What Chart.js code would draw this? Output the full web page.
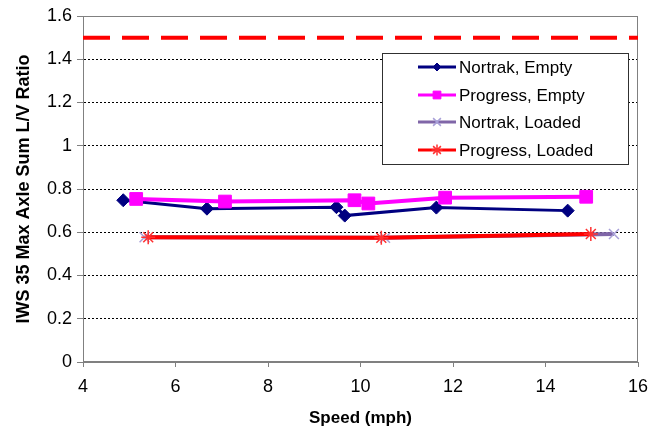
<!DOCTYPE html>
<html>
<head>
<meta charset="utf-8">
<script src="https://cdn.jsdelivr.net/npm/chart.js@4.4.1/dist/chart.umd.min.js"></script>
<style>
  html, body { margin: 0; padding: 0; background: #fff; }
  #c { display: block; }
</style>
</head>
<body>
<canvas id="c" width="660" height="429"></canvas>
<script>
// ---- data ----
const nortrakEmptyX = [4.87, 6.68, 9.48, 9.66, 11.64, 14.48];
const nortrakEmptyY = [0.748, 0.709, 0.716, 0.677, 0.714, 0.700];
const progressEmptyX = [5.15, 7.07, 9.87, 10.17, 11.83, 14.88];
const progressEmptyY = [0.754, 0.742, 0.748, 0.733, 0.760, 0.764];
const nortrakLoadedX = [5.33, 10.53, 15.48];
const nortrakLoadedY = [0.577, 0.574, 0.592];
const progressLoadedX = [5.41, 10.45, 14.98];
const progressLoadedY = [0.577, 0.574, 0.592];
const limitX = [4, 16];
const limitY = [1.5, 1.5];
const seriesNames = ['Nortrak, Empty', 'Progress, Empty', 'Nortrak, Loaded', 'Progress, Loaded'];
const xTicks = [4, 6, 8, 10, 12, 14, 16];
const yTicks = [0, 0.2, 0.4, 0.6, 0.8, 1, 1.2, 1.4, 1.6];
const xTitle = 'Speed (mph)';
const yTitle = 'IWS 35 Max Axle Sum L/V Ratio';

const pts = (xs, ys) => xs.map((x, i) => ({ x: x, y: ys[i] }));
const FONT = "'Liberation Sans', Arial, sans-serif";

const styles = [
  { color: '#000080', lw: 3, ps: 'rectRot', pr: 6.5, pc: '#000080', pb: 1, lpr: 4 },
  { color: '#FF00FF', lw: 4, ps: 'rect', pr: 9, pc: '#FF00FF', pb: 1, lpr: 5.5 },
  { color: '#8066A8', lw: 4, ps: 'crossRot', pr: 7, pc: '#A8A0D8', pb: 1.5, lpr: 5.5 },
  { color: '#FF0000', lw: 4, ps: 'star', pr: 7, pc: '#FF3030', pb: 1.5, lpr: 5.5 }
];
const seriesX = [nortrakEmptyX, progressEmptyX, nortrakLoadedX, progressLoadedX];
const seriesY = [nortrakEmptyY, progressEmptyY, nortrakLoadedY, progressLoadedY];

const datasets = seriesNames.map((name, i) => ({
  label: name,
  data: pts(seriesX[i], seriesY[i]),
  borderColor: styles[i].color,
  backgroundColor: styles[i].pc,
  borderWidth: styles[i].lw,
  pointStyle: styles[i].ps,
  pointRadius: styles[i].pr,
  pointBorderColor: styles[i].pc,
  pointBackgroundColor: styles[i].pc,
  pointBorderWidth: styles[i].pb,
  tension: 0,
  order: 4 - i,
  isSeries: true
}));
datasets.push({
  label: 'limit',
  data: pts(limitX, limitY),
  borderColor: '#FF0000',
  borderWidth: 4,
  borderDash: [27, 12],
  pointRadius: 0,
  tension: 0,
  order: 0,
  isSeries: false
});

const frame = {
  id: 'frame',
  beforeDatasetsDraw(chart) {
    const a = chart.chartArea, ctx = chart.ctx;
    ctx.save();
    ctx.strokeStyle = '#808080';
    ctx.lineWidth = 1;
    ctx.strokeRect(Math.round(a.left) + 0.5, Math.round(a.top) + 0.5,
                   Math.round(a.right - a.left) - 1, Math.round(a.bottom - a.top) - 1);
    ctx.restore();
  }
};

const legendBox = {
  id: 'legendBox',
  afterDraw(chart) {
    const ctx = chart.ctx;
    const bx = 382, by = 53, bw = 246, bh = 111;
    ctx.save();
    ctx.fillStyle = '#fff';
    ctx.fillRect(bx, by, bw, bh);
    ctx.strokeStyle = '#303030';
    ctx.lineWidth = 1;
    ctx.strokeRect(bx + 0.5, by + 0.5, bw, bh);
    const rows = [67, 95, 122, 150];
    chart.data.datasets.filter(d => d.isSeries).forEach((d, i) => {
      const y = rows[i];
      const s = styles[i];
      ctx.strokeStyle = s.color;
      ctx.lineWidth = 3;
      ctx.setLineDash([]);
      ctx.beginPath();
      ctx.moveTo(418, y);
      ctx.lineTo(456, y);
      ctx.stroke();
      ctx.fillStyle = s.pc;
      ctx.strokeStyle = s.pc;
      ctx.lineWidth = s.pb;
      Chart.helpers.drawPoint(ctx, { pointStyle: s.ps, radius: s.lpr, rotation: 0, borderWidth: s.pb }, 437, y);
      ctx.fillStyle = '#000';
      ctx.font = '17px ' + FONT;
      ctx.textBaseline = 'middle';
      ctx.textAlign = 'left';
      ctx.fillText(d.label, 459, y + 1);
    });
    ctx.restore();
  }
};

new Chart(document.getElementById('c'), {
  type: 'line',
  data: { datasets: datasets },
  options: {
    responsive: false,
    devicePixelRatio: 1,
    animation: false,
    layout: { padding: { left: 0, top: 16, right: 22, bottom: 0 } },
    plugins: { legend: { display: false }, tooltip: { enabled: false } },
    scales: {
      x: {
        type: 'linear',
        min: 4, max: 16,
        afterBuildTicks: s => { s.ticks = xTicks.map(v => ({ value: v })); },
        afterFit: s => { s.height = 67; },
        ticks: {
          color: '#000', font: { family: FONT, size: 18 }, padding: 9,
          maxRotation: 0,
          callback: v => String(v)
        },
        grid: { drawOnChartArea: false, tickLength: 5, tickColor: '#808080', color: '#808080' },
        border: { color: '#808080', width: 1 },
        title: { display: true, text: xTitle, color: '#000',
                 font: { family: FONT, size: 17, weight: 'bold' }, padding: { top: 0, bottom: 0 } }
      },
      y: {
        min: 0, max: 1.6,
        afterBuildTicks: s => { s.ticks = yTicks.map(v => ({ value: v })); },
        afterFit: s => { s.width = 83; },
        ticks: {
          color: '#000', font: { family: FONT, size: 18 }, padding: 5,
          callback: v => String(Math.round(v * 10) / 10)
        },
        grid: {
          color: ctx => (ctx.tick && (ctx.tick.value === 0 || ctx.tick.value === 1.6)) ? 'rgba(0,0,0,0)' : '#000',
          lineWidth: 1, tickLength: 6, tickColor: '#808080', tickBorderDash: [], drawTicks: true
        },
        border: { color: '#808080', width: 1, dash: [2, 2] },
        title: { display: true, text: yTitle, color: '#000',
                 font: { family: FONT, size: 18, weight: 'bold' }, padding: { top: 13, bottom: 0 } }
      }
    }
  },
  plugins: [frame, legendBox]
});
</script>
</body>
</html>
